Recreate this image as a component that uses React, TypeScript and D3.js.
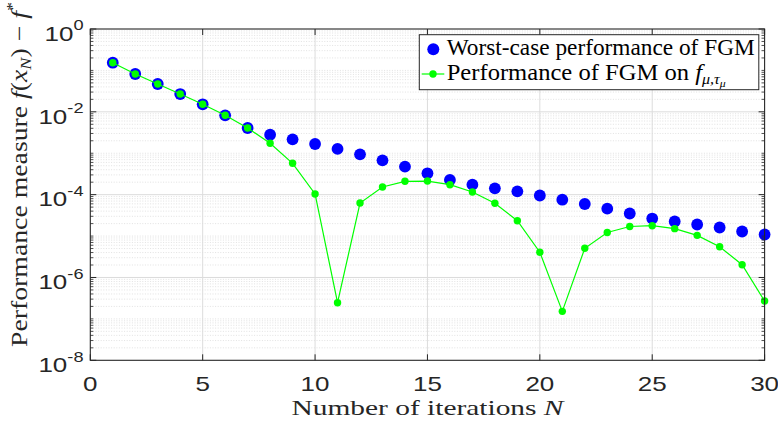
import React from "react";
import * as d3 from "d3";

// Iteration counts N
const iterations = [1, 2, 3, 4, 5, 6, 7, 8, 9, 10, 11, 12, 13, 14, 15, 16, 17, 18, 19, 20, 21, 22, 23, 24, 25, 26, 27, 28, 29, 30];

// Worst-case performance of FGM, f(x_N) - f*
const worstCase = [
  0.1535, 0.0819, 0.047, 0.0269, 0.0152, 0.00824, 0.00407, 0.0028, 0.00217, 0.00167,
  0.00127, 0.000942, 0.000675, 0.000473, 0.000328, 0.000226, 0.000174, 0.000142, 0.00012, 0.0000953,
  0.0000755, 0.0000594, 0.0000458, 0.0000351, 0.0000265, 0.0000225, 0.000019, 0.0000161, 0.0000129, 0.0000109,
];

// Performance of FGM on f_{mu, tau_mu}
const fgmOnF = [
  0.1535, 0.0819, 0.047, 0.0269, 0.0152, 0.00824, 0.00407, 0.00174, 0.000571, 0.000104,
  2.46e-7, 6.28e-5, 1.53e-4, 2.1e-4, 2.13e-4, 1.74e-4, 1.16e-4, 6.18e-5, 2.35e-5, 4.07e-6,
  1.52e-7, 5.06e-6, 1.22e-5, 1.7e-5, 1.78e-5, 1.51e-5, 1.04e-5, 5.53e-6, 2.03e-6, 2.7e-7,
];

const xTicks = [0, 5, 10, 15, 20, 25, 30];
const yTickExponents = [0, -2, -4, -6, -8];

const W = 778;
const H = 426;
const M = { left: 90.3, right: 764.6, top: 29, bottom: 360.3 };

const SANS = "'Liberation Sans', Arial, Helvetica, sans-serif";
const SERIF = "'Liberation Serif', 'Times New Roman', serif";
const AXIS = "#262626";

export default function App() {
  const x = d3.scaleLinear().domain([0, 30]).range([M.left, M.right]);
  const y = d3.scaleLog().domain([1e-8, 1]).range([M.bottom, M.top]);

  // minor log ticks: k * 10^e, skipping labelled decades
  const minorVals: number[] = [];
  for (let e = -8; e < 0; e++) {
    for (let k = 1; k <= 9; k++) {
      if (k === 1 && e % 2 === 0) continue;
      minorVals.push(k * Math.pow(10, e));
    }
  }

  const line = d3
    .line<number>()
    .x((_, i) => x(iterations[i]))
    .y((d) => y(d));

  return (
    <svg
      width={W}
      height={H}
      style={{ position: "fixed", left: 0, top: 0, background: "#fff" }}
      xmlns="http://www.w3.org/2000/svg"
    >
      <rect x={0} y={0} width={W} height={H} fill="#fff" />
      {/* grid */}
      <g>
        {minorVals.map((v, i) => (
          <line
            key={"mg" + i}
            x1={M.left}
            x2={M.right}
            y1={y(v)}
            y2={y(v)}
            stroke="#cfcfcf"
            strokeWidth={0.6}
            strokeDasharray="1 1.6"
          />
        ))}
        {yTickExponents.slice(1, -1).map((e) => (
          <line
            key={"yg" + e}
            x1={M.left}
            x2={M.right}
            y1={y(Math.pow(10, e))}
            y2={y(Math.pow(10, e))}
            stroke="#dcdcdc"
            strokeWidth={1}
          />
        ))}
        {xTicks.slice(1, -1).map((t) => (
          <line key={"xg" + t} x1={x(t)} x2={x(t)} y1={M.top} y2={M.bottom} stroke="#dcdcdc" strokeWidth={1} />
        ))}
      </g>

      {/* worst-case markers */}
      <g>
        {worstCase.map((v, i) => (
          <circle key={"b" + i} cx={x(iterations[i])} cy={y(v)} r={5.9} fill="#0000ff" />
        ))}
      </g>

      {/* FGM on f_{mu,tau_mu} */}
      <path d={line(fgmOnF) || ""} fill="none" stroke="#00ff00" strokeWidth={1.2} />
      <g>
        {fgmOnF.map((v, i) => (
          <circle key={"g" + i} cx={x(iterations[i])} cy={y(v)} r={3.7} fill="#00ff00" />
        ))}
      </g>

      {/* axes box and ticks */}
      <rect x={M.left} y={M.top} width={M.right - M.left} height={M.bottom - M.top} fill="none" stroke={AXIS} strokeWidth={1.1} />
      {xTicks.map((t) => (
        <g key={"xt" + t}>
          <line x1={x(t)} x2={x(t)} y1={M.bottom} y2={M.bottom - 6} stroke={AXIS} strokeWidth={1} />
          <line x1={x(t)} x2={x(t)} y1={M.top} y2={M.top + 6} stroke={AXIS} strokeWidth={1} />
        </g>
      ))}
      {yTickExponents.map((e) => (
        <g key={"yt" + e}>
          <line x1={M.left} x2={M.left + 6} y1={y(Math.pow(10, e))} y2={y(Math.pow(10, e))} stroke={AXIS} strokeWidth={1} />
          <line x1={M.right} x2={M.right - 6} y1={y(Math.pow(10, e))} y2={y(Math.pow(10, e))} stroke={AXIS} strokeWidth={1} />
        </g>
      ))}
      {minorVals.map((v, i) => (
        <g key={"ym" + i}>
          <line x1={M.left} x2={M.left + 3} y1={y(v)} y2={y(v)} stroke={AXIS} strokeWidth={0.8} />
          <line x1={M.right} x2={M.right - 3} y1={y(v)} y2={y(v)} stroke={AXIS} strokeWidth={0.8} />
        </g>
      ))}

      {/* tick labels */}
      {xTicks.map((t) => (
        <g key={"xl" + t} transform={`translate(${x(t)},391) scale(1.3,1)`}>
          <text textAnchor="middle" fontFamily={SANS} fontSize={20} fill={AXIS}>
            {t}
          </text>
        </g>
      ))}
      {yTickExponents.map((e) => (
        <g key={"yl" + e} transform={`translate(83.5,${y(Math.pow(10, e)) + 11.7}) scale(1.3,1)`}>
          <text textAnchor="end" fontFamily={SANS} fontSize={20} fill={AXIS}>
            10
            <tspan fontSize={14} dy={-10.5}>
              {e === 0 ? "0" : String(e)}
            </tspan>
          </text>
        </g>
      ))}

      {/* axis labels */}
      <text
        x={427.5}
        y={415}
        textAnchor="middle"
        fontFamily={SERIF}
        fontSize={22}
        fill={AXIS}
        textLength={272}
        lengthAdjust="spacingAndGlyphs"
      >
        Number of iterations <tspan fontStyle="italic">N</tspan>
      </text>
      <g transform="translate(27,174.5) rotate(-90)">
        <text
          x={0}
          y={0}
          textAnchor="middle"
          fontFamily={SERIF}
          fontSize={23}
          fill={AXIS}
          textLength={345}
          lengthAdjust="spacingAndGlyphs"
        >
          Performance measure <tspan fontStyle="italic">f</tspan>(<tspan fontStyle="italic">x</tspan>
          <tspan fontStyle="italic" fontSize={15} dy={4}>N</tspan>
          <tspan dy={-4}>) − </tspan>
          <tspan fontStyle="italic">f</tspan>
          <tspan fontSize={15} dy={-10}>*</tspan>
        </text>
      </g>

      {/* legend */}
      <g>
        <rect x={419.3} y={34.7} width={339.5} height={55} fill="#fff" stroke={AXIS} strokeWidth={1} />
        <circle cx={433.3} cy={49.3} r={6} fill="#0000ff" />
        <text
          x={446.7}
          y={54.5}
          fontFamily={SERIF}
          fontSize={23}
          fill="#000"
          textLength={308}
          lengthAdjust="spacingAndGlyphs"
        >
          Worst-case performance of FGM
        </text>
        <line x1={421.7} x2={444.3} y1={74} y2={74} stroke="#00ff00" strokeWidth={1.2} />
        <circle cx={433} cy={74} r={3.7} fill="#00ff00" />
        <text
          x={446.7}
          y={80}
          fontFamily={SERIF}
          fontSize={23}
          fill="#000"
          textLength={279}
          lengthAdjust="spacingAndGlyphs"
        >
          Performance of FGM on <tspan fontStyle="italic">f</tspan>
          <tspan fontStyle="italic" fontSize={15} dy={4}>μ,τ</tspan>
          <tspan fontStyle="italic" fontSize={11} dy={3}>μ</tspan>
        </text>
      </g>
    </svg>
  );
}
